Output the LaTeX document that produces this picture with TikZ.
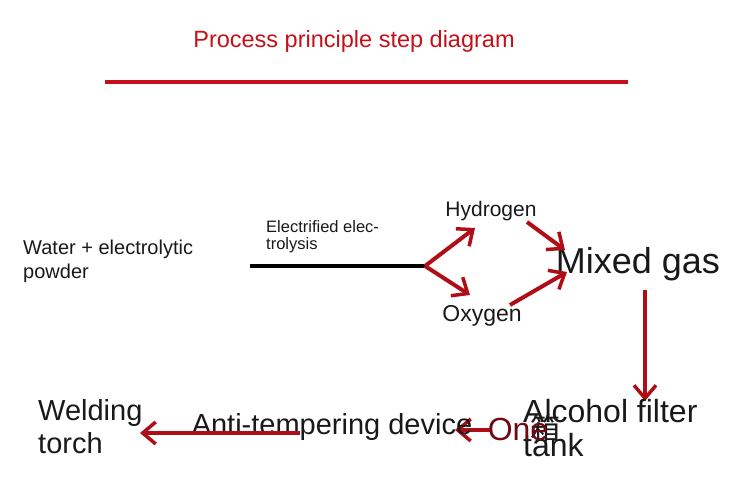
\documentclass[tikz,border=0pt]{standalone}
\usepackage{fontspec}
\setmainfont{Liberation Sans}
\newfontfamily\cjk{Noto Sans CJK SC}
\usetikzlibrary{arrows.meta}
\definecolor{ared}{RGB}{196,16,24}
\definecolor{dred}{RGB}{110,10,20}
\begin{document}
\begin{tikzpicture}[x=1pt,y=-1pt,
  lbl/.style={inner sep=0pt,text=black!90},
  rarr/.style={draw=ared!90!black,line width=4pt,-{Straight Barb[length=13pt,width=22pt,line width=3.5pt]}}]
\useasboundingbox (0,0) rectangle (750,500);
\node[text=ared,font=\fontsize{23.5}{26}\selectfont] (title) at (354,41) {Process principle step diagram};
\coordinate (l1) at (105,82); \coordinate (l2) at (628,82);
\draw[ared,line width=4pt] (l1) -- (l2);
\node[lbl,anchor=west,align=left,font=\fontsize{20}{24}\selectfont] (water) at (23,261) {Water + electrolytic\\powder};
\node[lbl,anchor=west,align=left,font=\fontsize{16.5}{17}\selectfont] (elec) at (266,237) {Electrified elec-\\trolysis};
\coordinate (s) at (250,266); \coordinate (fork) at (425,266);
\draw[black,line width=3.5pt] (s) -- (fork);
\node[lbl,font=\fontsize{21}{24}\selectfont] (h) at (491,211) {Hydrogen};
\node[lbl,font=\fontsize{23}{26}\selectfont] (o) at (482,316) {Oxygen};
\node[lbl,font=\fontsize{36}{40}\selectfont] (mix) at (638,264) {Mixed gas};
\coordinate (ht) at (475,228); \coordinate (ot) at (470,295);
\draw[rarr] (fork) -- (ht);
\draw[rarr] (fork) -- (ot);
\coordinate (hs) at (527,222); \coordinate (os) at (510,305);
\draw[rarr] (hs) -- (565,250);
\draw[rarr] (os) -- (567,272);
\coordinate (md) at (645,290);
\draw[rarr] (md) -- (645,401);
\node[lbl,anchor=west,align=left,font=\fontsize{32}{34}\selectfont] (alc) at (523,428) {Alcohol filter\\tank};
\node[lbl,font=\cjk\fontsize{30}{32}\selectfont] (box) at (545,428) {箱};
\node[lbl,text=dred,font=\fontsize{32}{36}\selectfont] (one) at (518,429) {One};
\coordinate (oa) at (490,430);
\draw[rarr] (oa) -- (455,430);
\node[lbl,font=\fontsize{29}{34}\selectfont] (anti) at (332,427) {Anti-tempering device};
\coordinate (aa) at (300,433);
\draw[rarr] (aa) -- (140,433);
\node[lbl,anchor=west,align=left,font=\fontsize{29}{33}\selectfont] (weld) at (38,427) {Welding\\torch};
\end{tikzpicture}
\end{document}
